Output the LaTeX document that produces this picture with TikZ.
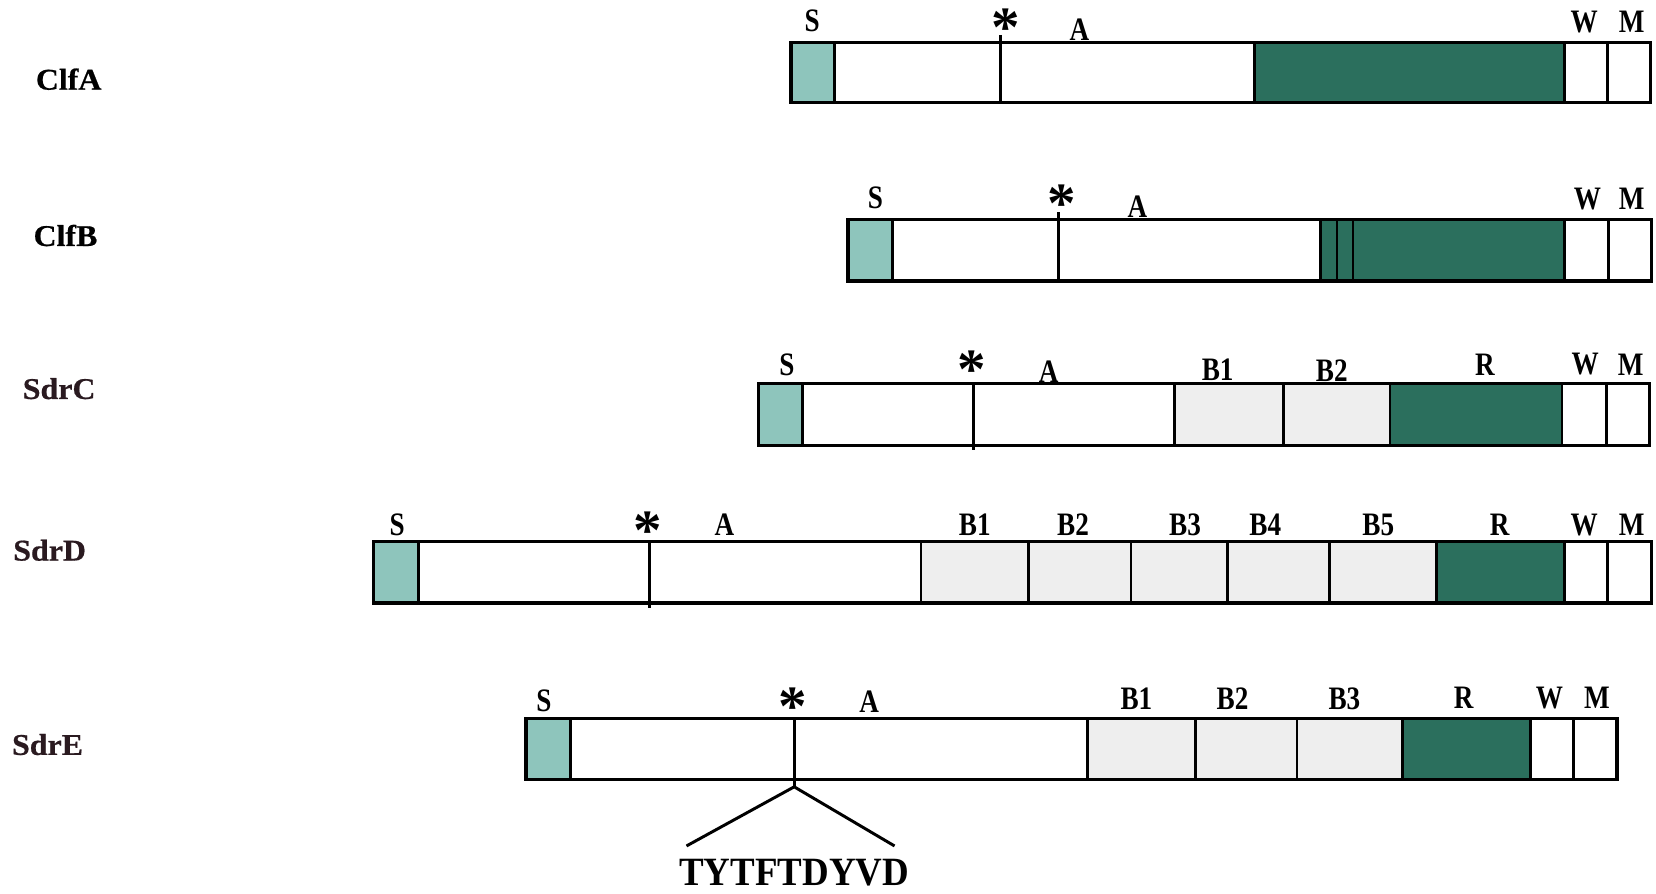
\documentclass[tikz,border=0pt]{standalone}
\usepackage{fontspec}
\setmainfont{Liberation Serif}
\newfontfamily\labfont[FakeStretch=0.83]{Liberation Serif}
\newfontfamily\seqfont[FakeStretch=0.92]{Liberation Serif}
\newfontfamily\namefont[FakeStretch=1.06,FakeBold=0.6]{Liberation Serif}
\definecolor{scol}{HTML}{8EC5BC}
\definecolor{rcol}{HTML}{2B6F5D}
\definecolor{bcol}{HTML}{EEEEEE}
\definecolor{namecol}{HTML}{2A1A20}
\begin{document}
\begin{tikzpicture}[x=1pt,y=-1pt,
  seg/.style={draw=black,line width=2.6pt},
  outline/.style={draw=black,line width=3pt},
  lab/.style={font=\labfont\bfseries\fontsize{31}{31}\selectfont,inner sep=0pt},
  protname/.style={font=\namefont\bfseries\fontsize{28.5}{28.5}\selectfont,inner sep=0pt},
  ast/.style={font=\bfseries\fontsize{54}{54}\selectfont,inner sep=0pt,anchor=base},
  seqlab/.style={font=\seqfont\bfseries\fontsize{38}{38}\selectfont,inner sep=0pt}]
\useasboundingbox[fill=white] (0,0) rectangle (1568,846);

% ---------- ClfA ----------
\node[protname] (nA) at (65,75) {ClfA};
\fill[scol] (749,40) rectangle (790,97);
\fill[rcol] (1188,40) rectangle (1481,97);
\draw[seg] (790,40)--(790,97) (947,33)--(947,97) (1188,40)--(1188,97) (1481,40)--(1481,97) (1522,40)--(1522,97);
\draw[outline] (749,40) rectangle (1563,97);
\node[lab] (aS) at (769,20) {S};
\node[ast] (aAst) at (952,44) {*};
\node[lab] (aA) at (1022,28) {A};
\node[lab] (aW) at (1500,21) {W};
\node[lab] (aM) at (1545,21) {M};

% ---------- ClfB ----------
\node[protname] (nB) at (62,223) {ClfB};
\fill[scol] (803,208) rectangle (845,266);
\fill[rcol] (1250,208) rectangle (1481,266);
\draw[seg] (845,208)--(845,266) (1002,201)--(1002,266) (1250,208)--(1250,266) (1266,208)--(1266,266) (1281,208)--(1281,266) (1481,208)--(1481,266) (1523,208)--(1523,266);
\draw[outline] (803,208) rectangle (1564,266);
\node[lab] (bS) at (829,187) {S};
\node[ast] (bAst) at (1005,211) {*};
\node[lab] (bA) at (1077,196) {A};
\node[lab] (bW) at (1503,188) {W};
\node[lab] (bM) at (1545,188) {M};

% ---------- SdrC ----------
\node[protname,text=namecol] (nC) at (56,368) {SdrC};
\fill[scol] (718,363) rectangle (760,422);
\fill[bcol] (1112,363) rectangle (1316,422);
\fill[rcol] (1316,363) rectangle (1479,422);
\draw[seg] (760,363)--(760,422) (922,363)--(922,426) (1112,363)--(1112,422) (1215,363)--(1215,422) (1316,363)--(1316,422) (1479,363)--(1479,422) (1521,363)--(1521,422);
\draw[outline] (718,363) rectangle (1562,422);
\node[lab] (cS) at (745,345) {S};
\node[ast] (cAst) at (920,368) {*};
\node[lab] (cA) at (993,352) {A};
\node[lab] (cB1) at (1153,350) {B1};
\node[lab] (cB2) at (1261,351) {B2};
\node[lab] (cR) at (1406,345) {R};
\node[lab] (cW) at (1501,345) {W};
\node[lab] (cM) at (1544,345) {M};

% ---------- SdrD ----------
\node[protname,text=namecol] (nD) at (47,521) {SdrD};
\fill[scol] (354,513) rectangle (396,571);
\fill[bcol] (872,513) rectangle (1360,571);
\fill[rcol] (1360,513) rectangle (1481,571);
\draw[seg] (396,513)--(396,571) (615,513)--(615,576) (872,513)--(872,571) (974,513)--(974,571) (1071,513)--(1071,571) (1162,513)--(1162,571) (1259,513)--(1259,571) (1360,513)--(1360,571) (1481,513)--(1481,571) (1522,513)--(1522,571);
\draw[outline] (354,513) rectangle (1564,571);
\node[lab] (dS) at (376,497) {S};
\node[ast] (dAst) at (613,520) {*};
\node[lab] (dA) at (686,497) {A};
\node[lab] (dB1) at (923,497) {B1};
\node[lab] (dB2) at (1016,497) {B2};
\node[lab] (dB3) at (1122,497) {B3};
\node[lab] (dB4) at (1198,497) {B4};
\node[lab] (dB5) at (1305,497) {B5};
\node[lab] (dR) at (1420,497) {R};
\node[lab] (dW) at (1500,497) {W};
\node[lab] (dM) at (1545,497) {M};

% ---------- SdrE ----------
\node[protname,text=namecol] (nE) at (45,705) {SdrE};
\fill[scol] (498,680) rectangle (540,738);
\fill[bcol] (1030,680) rectangle (1328,738);
\fill[rcol] (1328,680) rectangle (1449,738);
\coordinate (junc) at (752,745);
\draw[seg] (540,680)--(540,738) (752,680)--(junc) (1030,680)--(1030,738) (1132,680)--(1132,738) (1228,680)--(1228,738) (1328,680)--(1328,738) (1449,680)--(1449,738) (1490,680)--(1490,738);
\draw[outline] (498,680) rectangle (1531,738);
\node[lab] (eS) at (515,664) {S};
\node[ast] (eAst) at (751,687) {*};
\node[lab] (eA) at (823,664) {A};
\node[lab] (eB1) at (1076,662) {B1};
\node[lab] (eB2) at (1167,662) {B2};
\node[lab] (eB3) at (1273,662) {B3};
\node[lab] (eR) at (1386,661) {R};
\node[lab] (eW) at (1467,661) {W};
\node[lab] (eM) at (1512,661) {M};

\coordinate (lend) at (650,801);
\coordinate (rend) at (847,801);
\draw[line width=2.8pt] (junc)--(lend) (junc)--(rend);
\node[seqlab] (seq) at (752,826) {TYTFTDYVD};
\end{tikzpicture}
\end{document}
